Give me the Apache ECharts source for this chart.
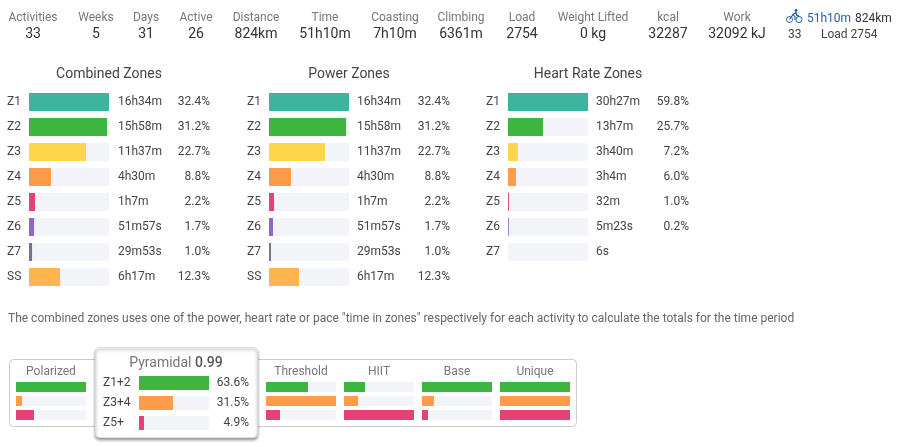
<!DOCTYPE html>
<html>
<head>
<meta charset="utf-8">
<title>Zones</title>
<script src="https://cdn.jsdelivr.net/npm/echarts@6/dist/echarts.min.js"></script>
<style>
  html, body { margin: 0; padding: 0; background: #fff; }
  #chart { width: 900px; height: 447px; }
</style>
</head>
<body>
<div id="chart"></div>
<script>
// top row of totals
const statLabels = ['Activities', 'Weeks', 'Days', 'Active', 'Distance', 'Time', 'Coasting', 'Climbing', 'Load', 'Weight Lifted', 'kcal', 'Work']
const statValues = ['33', '5', '31', '26', '824km', '51h10m', '7h10m', '6361m', '2754', '0 kg', '32287', '32092 kJ']

// zones, bar lengths are % of the longest bar
const zoneNames = ['Z1', 'Z2', 'Z3', 'Z4', 'Z5', 'Z6', 'Z7', 'SS']
const hrZoneNames = ['Z1', 'Z2', 'Z3', 'Z4', 'Z5', 'Z6', 'Z7']
const combinedBars = [100, 97.5, 71.3, 27.5, 7.5, 6.3, 3.8, 38.8]
const combinedTimes = ['16h34m', '15h58m', '11h37m', '4h30m', '1h7m', '51m57s', '29m53s', '6h17m']
const combinedPcts = ['32.4%', '31.2%', '22.7%', '8.8%', '2.2%', '1.7%', '1.0%', '12.3%']
const powerBars = [100, 96.3, 70, 27.5, 6.3, 5, 2.5, 37.5]
const powerTimes = ['16h34m', '15h58m', '11h37m', '4h30m', '1h7m', '51m57s', '29m53s', '6h17m']
const powerPcts = ['32.4%', '31.2%', '22.7%', '8.8%', '2.2%', '1.7%', '1.0%', '12.3%']
const hrBars = [100, 43.8, 12.5, 10, 1.2, 1, 0]
const hrTimes = ['30h27m', '13h7m', '3h40m', '3h4m', '32m', '5m23s', '6s']
const hrPcts = ['59.8%', '25.7%', '7.2%', '6.0%', '1.0%', '0.2%', '']

// training distribution models
const modelNames = ['Polarized', 'Threshold', 'HIIT', 'Base', 'Unique']
const polarizedBars = [100, 8.6, 25.7]
const thresholdBars = [60, 100, 20]
const hiitBars = [30, 20, 100]
const baseBars = [100, 17, 8.6]
const uniqueBars = [100, 100, 100]
const pyramidalNames = ['Z1+2', 'Z3+4', 'Z5+']
const pyramidalBars = [100, 48.6, 7.1]
const pyramidalPcts = ['63.6%', '31.5%', '4.9%']

const note = 'The combined zones uses one of the power, heart rate or pace "time in zones" respectively for each activity to calculate the totals for the time period'

const FONT = 'Roboto'
const zoneColors = ['#3cb4a0', '#3db540', '#ffd54a', '#ff9c4a', '#e44174', '#8e66d9', '#78748e', '#ffb54d']
const modelColors = ['#3db540', '#ff9c4a', '#e44174']
const TRACK = '#f3f3fa'

const grids = []
const xAxes = []
const yAxes = []
const series = []

// one grid with a bar series on its left category axis
function addBars(box, names, values, colors, barWidth, leftLabel, rightLabel) {
  const i = grids.length
  grids.push({ left: box.left, top: box.top, width: box.width, height: box.height })
  xAxes.push({ gridIndex: i, type: 'value', min: 0, max: 100, show: false })
  yAxes.push({
    gridIndex: i, type: 'category', inverse: true, data: names, position: 'left', z: 10,
    axisLine: { show: false }, axisTick: { show: false }, splitLine: { show: false },
    axisLabel: Object.assign({ show: !!leftLabel, fontFamily: FONT, fontSize: 12, color: '#444' }, leftLabel)
  })
  if (rightLabel) {
    yAxes.push({
      gridIndex: i, type: 'category', inverse: true, data: rightLabel.data, position: 'right', z: 10,
      axisLine: { show: false }, axisTick: { show: false }, splitLine: { show: false },
      axisLabel: Object.assign({ show: true, interval: 0, fontFamily: FONT, fontSize: 12, color: '#444' }, rightLabel.label)
    })
  }
  series.push({
    type: 'bar',
    xAxisIndex: i,
    yAxisIndex: yAxes.findIndex(a => a.gridIndex === i),
    barWidth: barWidth,
    silent: true,
    z: 10,
    showBackground: true,
    backgroundStyle: { color: TRACK },
    data: values.map((v, k) => ({ value: v, itemStyle: { color: colors[k] } }))
  })
}

function addZonePanel(left, names, bars, times, pcts, margin, timeWidth) {
  addBars({ left: left, top: 89.5, width: 80, height: 25 * names.length }, names, bars, zoneColors, 18,
    { interval: 0, align: 'left', margin: 22 },
    {
      data: times,
      label: {
        margin: margin,
        formatter: (value, idx) => '{t|' + value + '}{p|' + pcts[idx] + '}',
        rich: {
          t: { width: timeWidth, align: 'left', fontFamily: FONT, fontSize: 12, color: '#444' },
          p: { width: 42, align: 'right', fontFamily: FONT, fontSize: 12, color: '#444' }
        }
      }
    })
}

addZonePanel(29, zoneNames, combinedBars, combinedTimes, combinedPcts, 9, 50)
addZonePanel(269, zoneNames, powerBars, powerTimes, powerPcts, 8, 51)
addZonePanel(508, hrZoneNames, hrBars, hrTimes, hrPcts, 8, 51)

const modelBars = [polarizedBars, thresholdBars, hiitBars, baseBars, uniqueBars]
const modelLefts = [16, 266, 344, 422, 500]
modelBars.forEach((bars, i) => {
  addBars({ left: modelLefts[i], top: 380, width: 70, height: 42 }, pyramidalNames, bars, modelColors, 10)
})
addBars({ left: 139, top: 373, width: 70, height: 60 }, pyramidalNames, pyramidalBars, modelColors, 14,
  { interval: 0, align: 'left', margin: 36 },
  { data: pyramidalPcts, label: { align: 'right', margin: 40 } })

function text(x, y, str, opts) {
  return {
    type: 'text', x: x, y: y, z: 5,
    style: Object.assign({ text: str, fontFamily: FONT, fontSize: 12, fill: '#777', align: 'center', verticalAlign: 'middle' }, opts)
  }
}

const statCenters = [33, 96, 146, 196, 256, 325, 395, 461, 522, 593, 668, 737]
const graphics = []
statLabels.forEach((s, i) => {
  graphics.push(text(statCenters[i], 18, s))
  graphics.push(text(statCenters[i], 34.5, statValues[i], { fontSize: 14, fill: '#333' }))
})

// bike icon
const BLUE = '#1f5fa8'
graphics.push({
  type: 'group', x: 786, y: 9, z: 5,
  children: [
    { type: 'circle', shape: { cx: 3.5, cy: 10.5, r: 3 }, style: { fill: 'none', stroke: BLUE, lineWidth: 1 } },
    { type: 'circle', shape: { cx: 13, cy: 10.5, r: 3 }, style: { fill: 'none', stroke: BLUE, lineWidth: 1 } },
    { type: 'polyline', shape: { points: [[3.5, 10.5], [7, 5.5], [9, 8], [9, 11]] }, style: { fill: 'none', stroke: BLUE, lineWidth: 1.2 } },
    { type: 'polyline', shape: { points: [[7, 5.5], [10, 3.5], [11, 6.5], [13, 7]] }, style: { fill: 'none', stroke: BLUE, lineWidth: 1.4 } },
    { type: 'circle', shape: { cx: 10, cy: 1.5, r: 1.4 }, style: { fill: BLUE } }
  ]
})
graphics.push(text(807, 18.5, '51h10m', { align: 'left', fontSize: 12, fill: BLUE }))
graphics.push(text(855, 18.5, '824km', { align: 'left', fontSize: 12, fill: '#333' }))
graphics.push(text(788, 34.5, '33', { align: 'left', fontSize: 12, fill: '#444' }))
graphics.push(text(821, 34.5, 'Load 2754', { align: 'left', fontSize: 12, fill: '#444' }))

// panel titles
graphics.push(text(109, 74.5, 'Combined Zones', { fontSize: 14, fill: '#444' }))
graphics.push(text(349, 74.5, 'Power Zones', { fontSize: 14, fill: '#444' }))
graphics.push(text(588, 74.5, 'Heart Rate Zones', { fontSize: 14, fill: '#444' }))

graphics.push(text(8, 318.5, note, { align: 'left', fill: '#666' }))

// box around the models, the pyramidal card sits on top of it
graphics.push({
  type: 'rect', z: 0,
  shape: { x: 9.5, y: 359.5, width: 567, height: 67, r: 4 },
  style: { fill: '#fff', stroke: '#ccc', lineWidth: 1 }
})
graphics.push({
  type: 'rect', z: 1,
  shape: { x: 95.5, y: 347.5, width: 162, height: 90, r: 4 },
  style: { fill: '#fff', stroke: '#ddd', lineWidth: 1, shadowBlur: 3, shadowOffsetY: 2, shadowColor: 'rgba(0,0,0,0.4)' }
})
const modelCenters = [51, 301, 379, 457, 535]
modelNames.forEach((s, i) => graphics.push(text(modelCenters[i], 371.5, s)))
graphics.push({
  type: 'text', x: 176, y: 363, z: 5,
  style: {
    text: '{a|Pyramidal }{b|0.99}', align: 'center', verticalAlign: 'middle',
    rich: {
      a: { fontFamily: FONT, fontSize: 14, fill: '#777' },
      b: { fontFamily: FONT, fontSize: 14, fontWeight: 500, fill: '#555' }
    }
  }
})

const chart = echarts.init(document.getElementById('chart'))
chart.setOption({
  animation: false,
  backgroundColor: '#fff',
  textStyle: { fontFamily: FONT },
  grid: grids,
  xAxis: xAxes,
  yAxis: yAxes,
  series: series,
  graphic: { elements: graphics }
})
</script>
</body>
</html>
